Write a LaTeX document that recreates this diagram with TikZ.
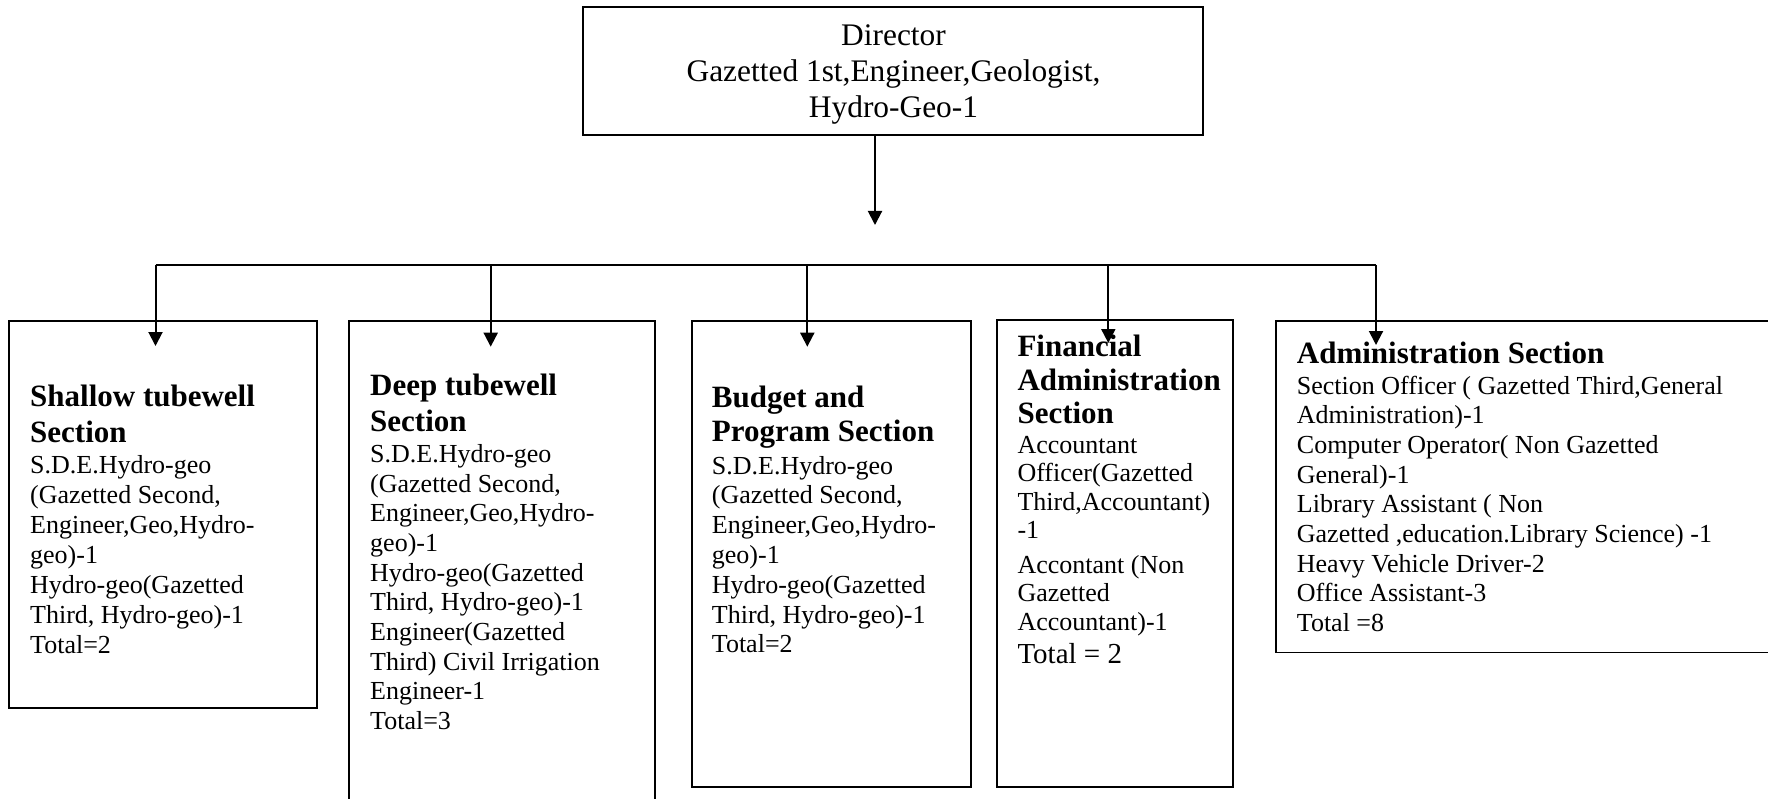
\documentclass[tikz,border=0pt]{standalone}
\usepackage{fontspec}
\setmainfont{Liberation Serif}
\usetikzlibrary{arrows.meta}
% left-aligned and centred line blocks whose baseline is the first line
\newcommand\lblock[1]{\begin{tabular}[t]{@{}l@{}}#1\end{tabular}}
\newcommand\cblock[1]{\begin{tabular}[t]{@{}c@{}}#1\end{tabular}}
\tikzset{
  box/.style={draw, line width=1.8pt, inner sep=0pt, outer sep=0pt, anchor=north west},
  head/.style={anchor=base west, inner sep=0pt, font=\bfseries\fontsize{31}{36}\selectfont},
  body/.style={anchor=base west, inner sep=0pt, font=\fontsize{26}{30}\selectfont},
  link/.style={line width=2pt},
  arr/.style={link, -{Triangle[length=14pt,width=14pt]}}
}
\begin{document}
\begin{tikzpicture}[x=1pt,y=-1pt]
\useasboundingbox (0,0) rectangle (1768,799);
\clip (0,0) rectangle (1768,799);

% director
\node[box, minimum width=620pt, minimum height=127.7pt] (dir) at (583,7.3) {};
\node[anchor=base, inner sep=0pt, font=\fontsize{31.4}{35.7}\selectfont] (dirtxt) at (893.5,46)
  {\cblock{Director\\Gazetted 1st,Engineer,Geologist,\\Hydro-Geo-1}};

% section boxes
\node[box, minimum width=307.4pt, minimum height=387.6pt] (b1) at (9.3,320.7) {};
\node[box, minimum width=305.7pt, minimum height=489.3pt] (b2) at (349.3,320.7) {};
\node[box, minimum width=279pt,   minimum height=466pt]   (b3) at (691.7,320.7) {};
\node[box, minimum width=236pt,   minimum height=466.3pt] (b4) at (997.3,320.4) {};
\node[box, minimum width=514.3pt, minimum height=331.8pt] (b5) at (1275.7,320.7) {};

% section texts
\node[head] (h1) at (30,406.7) {\lblock{Shallow tubewell\\Section}};
\node[body] (t1) at (30,473) {\lblock{S.D.E.Hydro-geo\\(Gazetted Second,\\Engineer,Geo,Hydro-\\geo)-1\\Hydro-geo(Gazetted\\Third, Hydro-geo)-1\\Total=2}};

\node[head] (h2) at (370,395) {\lblock{Deep tubewell\\Section}};
\node[body, font=\fontsize{26}{29.7}\selectfont] (t2) at (370,462.3) {\lblock{S.D.E.Hydro-geo\\(Gazetted Second,\\Engineer,Geo,Hydro-\\geo)-1\\Hydro-geo(Gazetted\\Third, Hydro-geo)-1\\Engineer(Gazetted\\Third) Civil Irrigation\\Engineer-1\\Total=3}};

\node[head, font=\bfseries\fontsize{31}{34.4}\selectfont] (h3) at (711.7,407.3) {\lblock{Budget and\\Program Section}};
\node[body, font=\fontsize{26}{29.8}\selectfont] (t3) at (711.7,474) {\lblock{S.D.E.Hydro-geo\\(Gazetted Second,\\Engineer,Geo,Hydro-\\geo)-1\\Hydro-geo(Gazetted\\Third, Hydro-geo)-1\\Total=2}};

\node[head, font=\bfseries\fontsize{31}{33.3}\selectfont] (h4) at (1017.3,356.7) {\lblock{Financial\\Administration\\Section}};
\node[body, font=\fontsize{26}{28.5}\selectfont] (t4) at (1017.3,453.3) {\lblock{Accountant\\Officer(Gazetted\\Third,Accountant)\\-1\\[6pt]Accontant (Non\\Gazetted\\Accountant)-1\\[4.5pt]{\fontsize{29}{30}\selectfont Total = 2}}};

\node[head] (h5) at (1296.7,363.3) {\lblock{Administration Section}};
\node[body, font=\fontsize{26}{29.7}\selectfont] (t5) at (1296.7,394) {\lblock{Section Officer ( Gazetted Third,General\\Administration)-1\\Computer Operator( Non Gazetted\\General)-1\\Library Assistant ( Non\\Gazetted ,education.Library Science) -1\\Heavy Vehicle Driver-2\\Office Assistant-3\\Total =8}};

% connectors
\coordinate (d0) at (875,135);
\coordinate (dtip) at (875,225);
\draw[arr] (d0) -- (dtip);

\coordinate (j1) at (155.5,265);
\coordinate (j2) at (490.7,265);
\coordinate (j3) at (807.3,265);
\coordinate (j4) at (1108.3,265);
\coordinate (j5) at (1376,265);
\coordinate (e1) at (155.5,346);
\coordinate (e2) at (490.7,346.7);
\coordinate (e3) at (807.3,346.7);
\coordinate (e4) at (1108.3,343);
\coordinate (e5) at (1376,345);

\draw[link] (j1) -- (j5);
\foreach \i in {1,...,5} \draw[arr] (j\i) -- (e\i);
\end{tikzpicture}
\end{document}
